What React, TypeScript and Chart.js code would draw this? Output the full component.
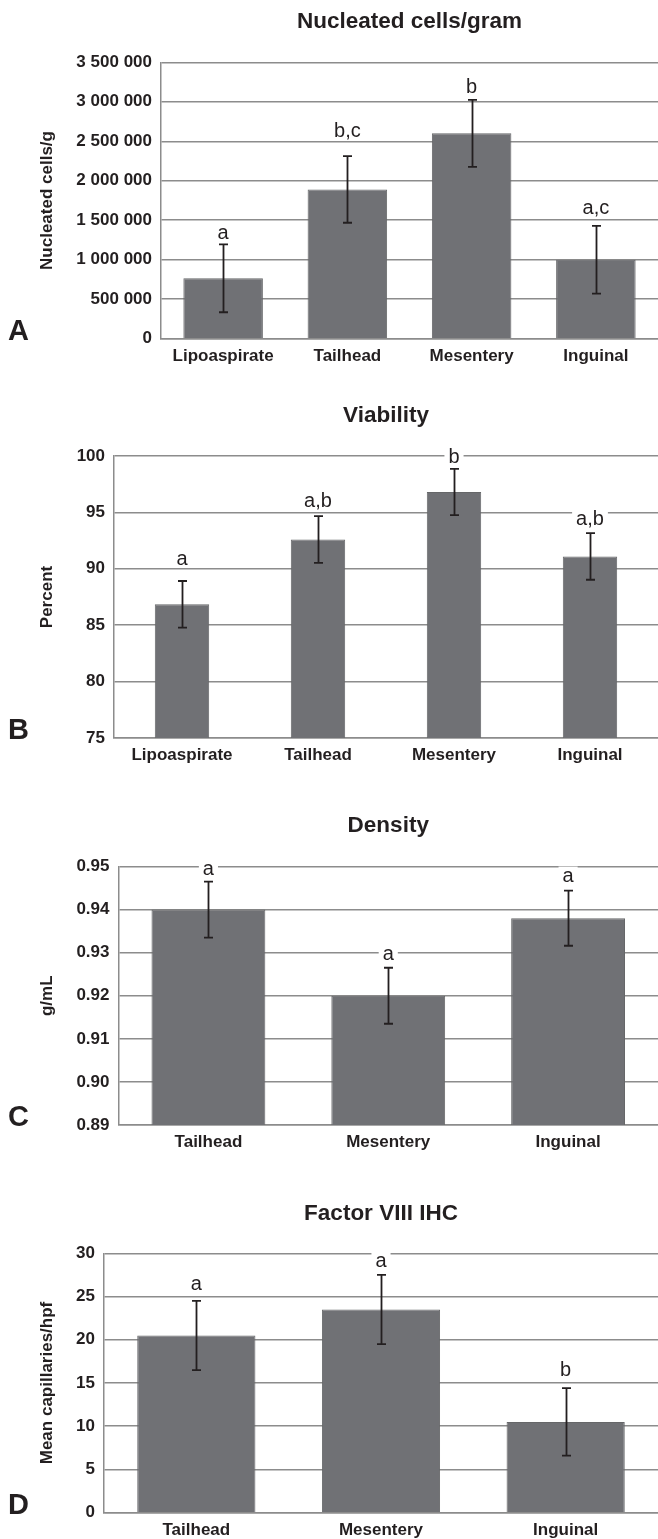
import React, { useEffect, useRef } from "react";
import { Chart, registerables } from "chart.js";

Chart.register(...registerables);

// ---------- DATA ----------
const nucCategories = ["Lipoaspirate", "Tailhead", "Mesentery", "Inguinal"];
const nucMeans = [765000, 1890000, 2600000, 1000000];
const nucErrors = [430000, 422000, 425000, 428000];
const nucLetters = ["a", "b,c", "b", "a,c"];
const nucLetterAt = [1259000, 2558000, 3108000, 1579000];
const nucTicks = [0, 500000, 1000000, 1500000, 2000000, 2500000, 3000000, 3500000];

const vibCategories = ["Lipoaspirate", "Tailhead", "Mesentery", "Inguinal"];
const vibMeans = [86.85, 92.6, 96.8, 91.1];
const vibErrors = [2.07, 2.07, 2.05, 2.07];
const vibLetters = ["a", "a,b", "b", "a,b"];
const vibLetterAt = [90.35, 95.5, 99.4, 93.9];
const vibTicks = [75, 80, 85, 90, 95, 100];

const denCategories = ["Tailhead", "Mesentery", "Inguinal"];
const denMeans = [0.94, 0.92, 0.938];
const denErrors = [0.0065, 0.0065, 0.0064];
const denLetters = ["a", "a", "a"];
const denLetterAt = [0.9481, 0.9283, 0.9465];
const denTicks = [0.89, 0.9, 0.91, 0.92, 0.93, 0.94, 0.95];

const f8Categories = ["Tailhead", "Mesentery", "Inguinal"];
const f8Means = [20.5, 23.5, 10.5];
const f8Errors = [4.0, 4.0, 3.9];
const f8Letters = ["a", "a", "b"];
const f8LetterAt = [25.7, 28.4, 15.85];
const f8Ticks = [0, 5, 10, 15, 20, 25, 30];

// ---------- STYLE ----------
const FONT = "'Liberation Sans', Arial, Helvetica, sans-serif";
const INK = "#231f20";
const GRID = "#8c8c8c";
const BAR = "#707175";
const BAR_EDGE = "#666769";

const spaced = (v: number) => String(Math.round(v)).replace(/\B(?=(\d{3})+(?!\d))/g, " ");

const annotatePlugin = {
  id: "annotate",
  afterDatasetsDraw(chart: any, _args: any, opts: any) {
    const ctx = chart.ctx;
    const meta = chart.getDatasetMeta(0);
    const y = chart.scales.y;
    const area = chart.chartArea;
    ctx.save();
    // error bars
    ctx.strokeStyle = INK;
    ctx.lineWidth = 1.8;
    opts.means.forEach((m: number, i: number) => {
      const x = Math.round(meta.data[i].x) + 0.5;
      const t = y.getPixelForValue(m + opts.errors[i]);
      const b = y.getPixelForValue(m - opts.errors[i]);
      ctx.beginPath();
      ctx.moveTo(x, t);
      ctx.lineTo(x, b);
      ctx.moveTo(x - 4.5, t);
      ctx.lineTo(x + 4.5, t);
      ctx.moveTo(x - 4.5, b);
      ctx.lineTo(x + 4.5, b);
      ctx.stroke();
    });
    // significance letters
    ctx.font = `20px ${FONT}`;
    ctx.textAlign = "center";
    ctx.textBaseline = "alphabetic";
    opts.letters.forEach((s: string, i: number) => {
      const x = meta.data[i].x;
      const by = y.getPixelForValue(opts.letterAt[i]);
      const w = ctx.measureText(s).width;
      ctx.fillStyle = "#ffffff";
      ctx.fillRect(x - w / 2 - 4, by - 15, w + 8, 18);
      ctx.fillStyle = INK;
      ctx.fillText(s, x, by);
    });
    // panel title
    ctx.font = `bold 22.5px ${FONT}`;
    ctx.fillStyle = INK;
    ctx.textAlign = "center";
    ctx.fillText(opts.title, (area.left + area.right) / 2, opts.titleBaseline);
    // panel letter
    ctx.font = `bold 29px ${FONT}`;
    ctx.textAlign = "left";
    ctx.fillText(opts.panel, 8, area.bottom + 1);
    ctx.restore();
  },
};

type PanelProps = {
  top: number;
  height: number;
  categories: string[];
  means: number[];
  errors: number[];
  letters: string[];
  letterAt: number[];
  ticks: number[];
  fmt: (v: number) => string;
  yTitle: string;
  title: string;
  panel: string;
  plotLeft: number;
  plotTop: number;
  plotBottom: number;
  barPct: number;
  titleBaseline: number;
};

function Panel(p: PanelProps) {
  const ref = useRef<HTMLCanvasElement | null>(null);
  useEffect(() => {
    if (!ref.current) return;
    const xH = p.height - p.plotBottom;
    const tickFont = { family: FONT, size: 17, weight: "bold" as const };
    const chart = new Chart(ref.current, {
      type: "bar",
      data: {
        labels: p.categories,
        datasets: [
          {
            data: p.means,
            backgroundColor: BAR,
            borderColor: BAR_EDGE,
            borderWidth: 1,
            barPercentage: p.barPct,
            categoryPercentage: 1,
          },
        ],
      },
      options: {
        responsive: false,
        animation: false,
        layout: {
          padding: { top: p.plotTop, left: 0, right: 0, bottom: 0 },
        },
        plugins: {
          legend: { display: false },
          tooltip: { enabled: false },
          title: { display: false },
          annotate: {
            means: p.means,
            errors: p.errors,
            letters: p.letters,
            letterAt: p.letterAt,
            title: p.title,
            panel: p.panel,
            titleBaseline: p.titleBaseline,
          },
        } as any,
        scales: {
          x: {
            offset: true,
            grid: { display: false, drawTicks: false },
            border: { display: true, color: GRID, width: 1.5 },
            ticks: { padding: 7.5, color: INK, font: tickFont, maxRotation: 0, autoSkip: false },
            afterFit: (s: any) => {
              s.height = xH;
            },
          },
          y: {
            min: p.ticks[0],
            max: p.ticks[p.ticks.length - 1],
            afterBuildTicks: (s: any) => {
              s.ticks = p.ticks.map((v) => ({ value: v }));
            },
            afterFit: (s: any) => {
              s.width = p.plotLeft;
            },
            grid: { color: GRID, lineWidth: 1.5, drawTicks: false },
            border: { display: true, color: GRID, width: 1.5 },
            ticks: {
              padding: 9,
              color: INK,
              font: tickFont,
              callback: (v: any) => p.fmt(Number(v)),
            },
            title: {
              display: true,
              text: p.yTitle,
              color: INK,
              font: tickFont,
              padding: { top: 37, bottom: 0 },
            },
          },
        },
      },
      plugins: [annotatePlugin],
    });
    return () => chart.destroy();
  }, []);
  return (
    <canvas
      ref={ref}
      width={658}
      height={p.height}
      style={{ position: "absolute", left: 0, top: p.top, width: 658, height: p.height }}
    />
  );
}

export default function App() {
  return (
    <div
      style={{
        position: "absolute",
        left: 0,
        top: 0,
        width: 658,
        height: 1539,
        overflow: "hidden",
        background: "#ffffff",
      }}
    >
      <Panel
        top={0}
        height={385}
        categories={nucCategories}
        means={nucMeans}
        errors={nucErrors}
        letters={nucLetters}
        letterAt={nucLetterAt}
        ticks={nucTicks}
        fmt={spaced}
        yTitle="Nucleated cells/g"
        title="Nucleated cells/gram"
        panel="A"
        plotLeft={161}
        plotTop={62.3}
        plotBottom={338.7}
        barPct={0.64}
        titleBaseline={27.5}
      />
      <Panel
        top={385}
        height={395}
        categories={vibCategories}
        means={vibMeans}
        errors={vibErrors}
        letters={vibLetters}
        letterAt={vibLetterAt}
        ticks={vibTicks}
        fmt={(v) => String(Math.round(v))}
        yTitle="Percent"
        title="Viability"
        panel="B"
        plotLeft={114}
        plotTop={71}
        plotBottom={353}
        barPct={0.4}
        titleBaseline={37}
      />
      <Panel
        top={780}
        height={382}
        categories={denCategories}
        means={denMeans}
        errors={denErrors}
        letters={denLetters}
        letterAt={denLetterAt}
        ticks={denTicks}
        fmt={(v) => v.toFixed(2)}
        yTitle="g/mL"
        title="Density"
        panel="C"
        plotLeft={118.5}
        plotTop={86.5}
        plotBottom={345}
        barPct={0.633}
        titleBaseline={52}
      />
      <Panel
        top={1162}
        height={377}
        categories={f8Categories}
        means={f8Means}
        errors={f8Errors}
        letters={f8Letters}
        letterAt={f8LetterAt}
        ticks={f8Ticks}
        fmt={(v) => String(Math.round(v))}
        yTitle="Mean capillaries/hpf"
        title="Factor VIII IHC"
        panel="D"
        plotLeft={104}
        plotTop={91.3}
        plotBottom={350.7}
        barPct={0.64}
        titleBaseline={58}
      />
    </div>
  );
}
